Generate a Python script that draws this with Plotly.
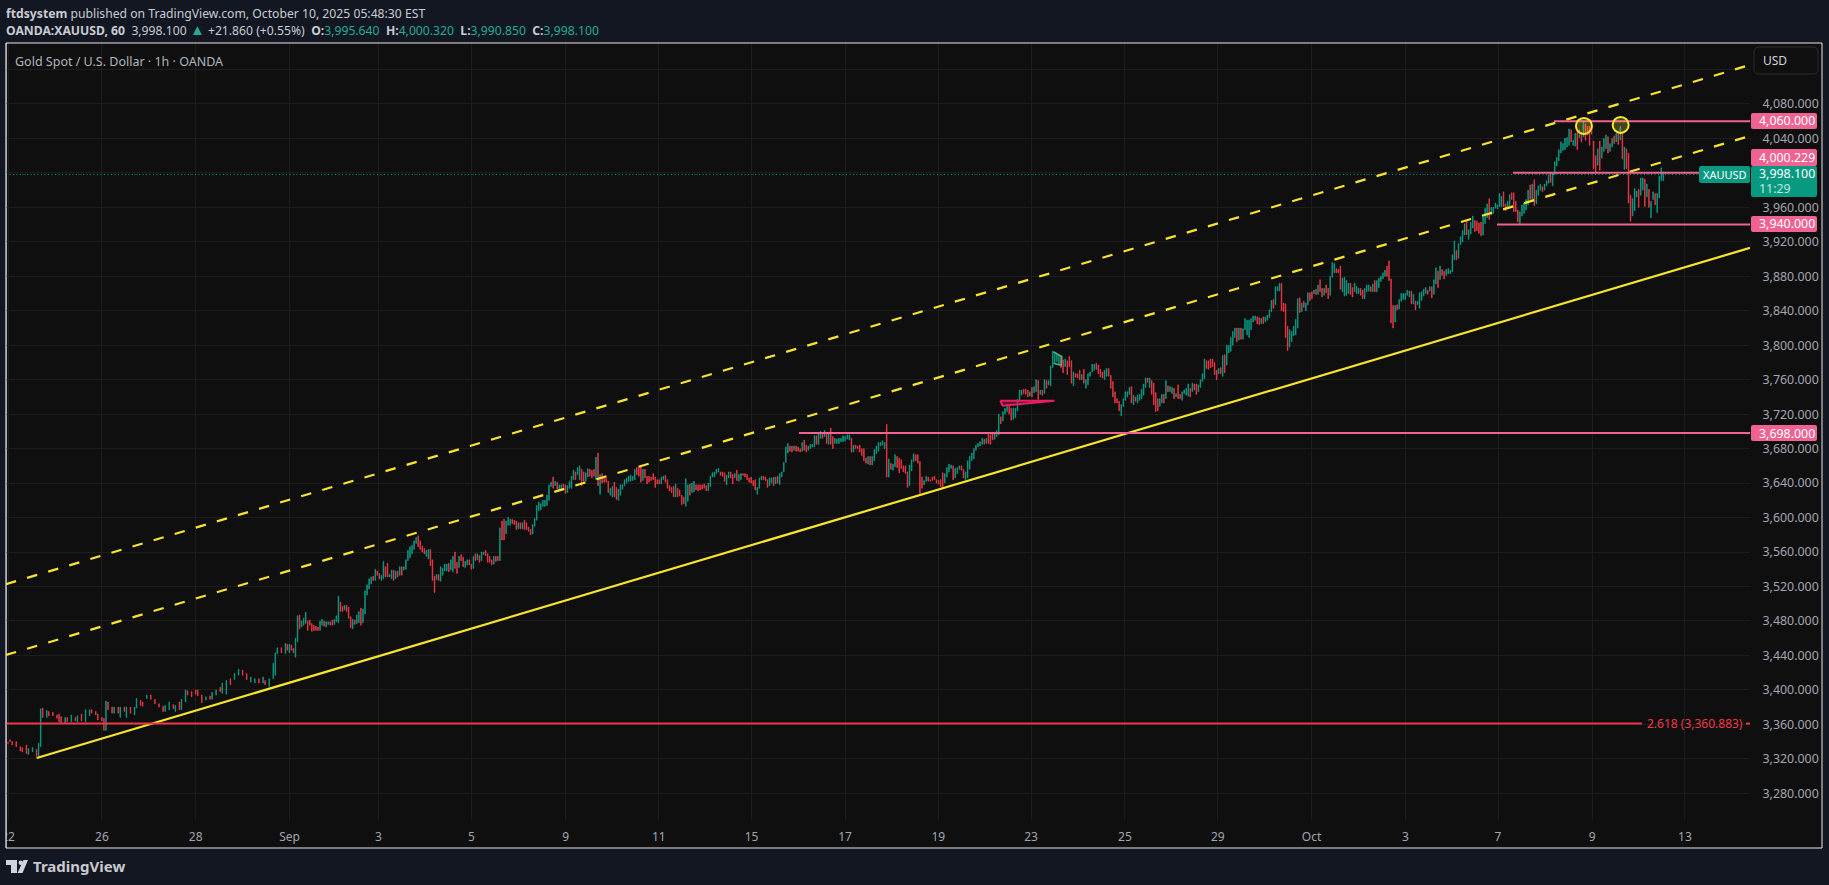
import numpy as np
import plotly.graph_objects as go

# ---- price data (segment by segment, open / close of each bar) ----
seg_a_bar = [1,2,3,5,7,8,10,11,13,15,16,17,18,20,21,23,25,26,27,29,30,32,34,35,37,39,41,42,44,45,47,48,49,50,52,53,55,56,58,59,61,63,64,66,67,69,71,73,75,77,78,80,82,83,85,86,88,89,91,93,94,96,98,100,101,103,105,106,108,110,112,114,116,118,120,122,124,126,127,129,131,132,133,135,137]
seg_a_open = [3339,3342,3340,3340,3334,3333,3336,3325,3328,3331,3323,3334,3379,3368,3375,3374,3371,3372,3369,3361,3368,3363,3368,3363,3372,3363,3370,3377,3375,3372,3368,3367,3353,3386,3380,3373,3380,3368,3380,3368,3380,3371,3379,3388,3386,3390,3394,3389,3384,3381,3375,3377,3383,3375,3386,3377,3386,3399,3398,3400,3400,3394,3388,3393,3389,3394,3403,3396,3395,3413,3412,3417,3423,3419,3409,3408,3413,3408,3411,3404,3413,3417,3442,3449,3442]
seg_a_close = [3338,3340,3336,3334,3329,3328,3326,3332,3333,3323,3338,3378,3368,3376,3370,3370,3367,3363,3361,3368,3363,3371,3364,3370,3364,3377,3377,3373,3371,3365,3364,3353,3387,3377,3373,3380,3373,3380,3375,3380,3373,3380,3390,3382,3381,3394,3389,3384,3380,3375,3382,3386,3378,3382,3377,3389,3400,3394,3392,3395,3393,3385,3392,3389,3397,3400,3398,3408,3411,3406,3419,3424,3417,3412,3415,3413,3408,3415,3406,3413,3431,3443,3449,3443,3454]

seg_b_open = [3453,3443,3452,3448,3438,3456,3487,3473,3475,3477,3480,3481,3477,3475,3474,3473,3469,3475,3480,3473,3476,3479,3481,3476,3479,3478,3502,3497,3493,3498,3496,3485,3471,3481,3477,3478,3495,3478,3488,3510,3517,3523,3532,3527,3538,3535,3527,3529,3543,3547,3531,3529,3539,3529,3538,3533,3543,3539,3540,3550,3553,3558,3563,3570,3579,3573,3567,3564,3555,3552,3563,3551,3532,3528,3534,3526,3533,3538,3538,3547,3539,3537,3560,3548,3542,3557,3554,3542,3545,3551,3546,3541,3558,3551,3556,3550,3557,3562,3558,3555,3551,3546,3555,3555,3550,3596,3598,3581,3591,3591,3598,3597,3596,3587,3594,3587,3597,3594,3589,3586,3581,3590,3597,3608,3609,3613,3613,3614,3620,3636,3647,3637,3641,3632,3633,3639,3638]
seg_b_close = [3446,3453,3446,3443,3460,3486,3471,3480,3483,3490,3469,3475,3468,3469,3469,3469,3480,3482,3474,3479,3479,3475,3475,3482,3486,3509,3491,3491,3498,3491,3483,3472,3482,3476,3487,3491,3475,3494,3515,3522,3529,3531,3527,3540,3533,3529,3533,3549,3531,3531,3534,3539,3527,3538,3531,3543,3533,3543,3551,3562,3566,3568,3573,3577,3566,3563,3560,3558,3562,3563,3544,3527,3513,3534,3527,3543,3541,3546,3546,3537,3551,3555,3541,3535,3555,3550,3543,3549,3551,3545,3540,3555,3550,3558,3548,3560,3560,3556,3548,3548,3545,3555,3549,3550,3588,3574,3574,3596,3600,3598,3593,3592,3586,3594,3587,3594,3586,3586,3584,3580,3592,3599,3614,3618,3616,3620,3620,3626,3638,3641,3634,3642,3633,3638,3638,3635,3628]

seg_c_open = [3629,3634,3634,3644,3653,3650,3644,3656,3653,3642,3647,3656,3655,3656,3644,3675,3627,3651,3647,3646,3642,3626,3624,3641,3635,3620,3626,3633,3637,3640,3642,3642,3643,3644,3658,3658,3659,3643,3656,3648,3648,3647,3651,3647,3644,3644,3639,3644,3649,3644,3637,3635,3636,3624,3634,3632,3626,3624,3613,3619,3639,3629,3630,3638,3638,3638,3638,3639,3637,3631,3636,3647,3647,3651,3653,3653,3653,3652,3638,3646,3653,3650,3646,3655,3642,3644,3651,3651,3650,3646,3647,3643,3644,3627,3634,3644,3648,3647,3644,3637,3640,3647,3639,3648,3638,3647,3653,3664,3675,3683,3683,3678,3683,3682,3680,3677,3690,3684,3678,3680,3682,3682,3695,3685,3692,3698,3694,3699,3685,3704,3694,3686,3686,3686,3688,3688,3689]
seg_c_close = [3637,3642,3648,3655,3644,3658,3660,3637,3642,3652,3657,3648,3646,3648,3670,3637,3650,3640,3641,3641,3629,3634,3636,3624,3621,3633,3638,3638,3644,3646,3648,3649,3648,3656,3650,3648,3641,3656,3646,3639,3641,3643,3644,3635,3639,3639,3647,3648,3641,3634,3631,3629,3624,3639,3624,3625,3615,3616,3645,3638,3626,3640,3642,3632,3631,3632,3633,3634,3631,3640,3648,3652,3653,3656,3657,3649,3648,3642,3649,3653,3646,3639,3651,3643,3650,3651,3649,3647,3644,3641,3640,3637,3632,3635,3646,3648,3644,3643,3635,3646,3646,3637,3647,3640,3651,3653,3664,3682,3686,3677,3676,3683,3677,3677,3676,3687,3678,3676,3683,3685,3685,3695,3685,3698,3700,3692,3701,3686,3699,3685,3680,3692,3691,3692,3692,3695,3694]

seg_d_open = [3691,3690,3692,3676,3684,3683,3684,3680,3680,3669,3662,3671,3661,3666,3674,3677,3683,3684,3680,3708,3647,3663,3655,3659,3671,3669,3667,3660,3660,3653,3637,3654,3665,3673,3673,3665,3647,3638,3642,3647,3644,3647,3648,3644,3643,3644,3652,3640,3647,3653,3657,3660,3646,3651,3656,3660,3656,3644,3646,3656,3666,3668,3678,3682,3683,3685,3691,3686,3698,3696,3698,3691,3694,3696,3717,3712,3720,3723,3729,3727,3714,3716,3724,3736,3742,3749,3749,3748,3741,3751,3745,3746,3759,3743,3748,3744,3759,3754,3753,3774,3780,3781,3777,3788,3783,3775,3782,3787,3782,3753,3767,3767,3771,3760,3772,3750,3754,3764,3769,3771,3779,3777,3772,3769,3760,3764,3773,3765,3758,3746,3738,3735,3718,3729,3736]
seg_d_close = [3696,3696,3676,3684,3680,3680,3676,3672,3666,3663,3671,3661,3671,3679,3683,3687,3687,3689,3687,3647,3668,3656,3662,3673,3658,3652,3657,3653,3651,3635,3661,3667,3674,3666,3663,3628,3634,3643,3648,3642,3642,3643,3644,3640,3639,3636,3634,3651,3658,3662,3661,3644,3657,3658,3660,3655,3646,3653,3666,3671,3675,3680,3684,3686,3688,3692,3685,3692,3686,3685,3690,3699,3701,3720,3709,3723,3727,3731,3720,3713,3727,3727,3737,3748,3748,3744,3743,3740,3746,3740,3752,3760,3737,3748,3742,3760,3750,3759,3776,3793,3791,3789,3789,3774,3768,3784,3766,3775,3756,3769,3763,3762,3760,3766,3756,3760,3767,3769,3778,3778,3772,3767,3763,3762,3771,3773,3764,3750,3740,3733,3733,3724,3731,3738,3746]

seg_e_open = [3740,3743,3752,3731,3740,3733,3736,3738,3742,3751,3762,3751,3759,3756,3745,3738,3729,3733,3743,3738,3753,3746,3744,3750,3740,3754,3743,3736,3744,3742,3741,3750,3746,3755,3755,3746,3751,3758,3761,3782,3782,3784,3784,3780,3771,3767,3774,3764,3789,3777,3791,3793,3800,3809,3820,3806,3820,3807,3818,3812,3809,3818,3827,3829,3833,3832,3825,3833,3827,3829,3832,3839,3853,3847,3863,3863,3872,3849,3848,3822,3798,3804,3811,3812,3820,3855,3839,3851,3840,3847,3861,3862,3860,3865,3859,3876,3866,3858,3870,3866,3858,3879,3884,3889,3888,3892,3862,3857,3858,3860,3872,3867,3862,3860,3860,3866,3864,3854,3862,3863,3868,3862,3875,3862,3867,3874,3877,3880,3892,3898,3877,3846,3827,3847,3842,3851,3853,3853]
seg_e_close = [3746,3751,3733,3742,3735,3742,3743,3749,3755,3762,3757,3762,3743,3731,3723,3724,3738,3743,3733,3759,3746,3752,3751,3738,3744,3738,3738,3746,3748,3750,3755,3740,3756,3748,3743,3754,3760,3767,3784,3773,3772,3774,3775,3766,3760,3773,3767,3788,3768,3800,3800,3809,3816,3820,3804,3820,3807,3819,3831,3829,3829,3831,3834,3834,3825,3824,3831,3825,3833,3835,3841,3852,3843,3868,3868,3872,3840,3839,3809,3794,3818,3816,3822,3830,3854,3838,3849,3844,3849,3861,3852,3854,3864,3859,3870,3862,3856,3866,3861,3854,3880,3896,3895,3884,3884,3865,3878,3879,3875,3872,3859,3856,3872,3868,3866,3858,3854,3866,3870,3870,3862,3871,3862,3875,3878,3880,3884,3887,3880,3875,3826,3820,3846,3841,3853,3860,3860,3860]

seg_f_open = [3858,3856,3863,3848,3851,3847,3843,3852,3857,3860,3864,3863,3868,3859,3871,3886,3876,3888,3886,3881,3883,3883,3885,3899,3910,3901,3917,3920,3928,3945,3923,3929,3936,3945,3944,3942,3943,3928,3941,3948,3970,3951,3953,3959,3958,3961,3961,3978,3964,3959,3962,3977,3977,3967,3957,3941,3950,3953,3957,3963,3986,3969,3992,3964,3974,3980,3984,3980,3985,3988,4000,3985,3998,4008,4014,4023,4026,4027,4030,4032,4050,4032,4031,4050,4041,4047,4042,4057,4054,4054,4056,4037,4020,4009,4037,4017,4025,4028,4042,4025,4030,4043,4036,4046,4038,4047,4004,4028,4023,3974,3950,3956,3972,3981,3974,3980,3993,3972,3981,3948,3969,3976,3954,3971,3991,3991]
seg_f_close = [3864,3863,3848,3859,3841,3851,3861,3862,3865,3867,3859,3868,3855,3876,3890,3867,3892,3881,3877,3888,3889,3887,3905,3921,3899,3918,3926,3933,3941,3928,3934,3943,3950,3932,3933,3930,3927,3949,3959,3964,3946,3960,3960,3965,3963,3976,3973,3961,3956,3967,3975,3969,3955,3955,3943,3955,3963,3965,3969,3980,3969,3987,3962,3980,3985,3987,3978,3987,3991,3998,3989,4000,4013,4018,4027,4036,4034,4040,4041,4051,4036,4038,4046,4027,4050,4036,4059,4038,4044,4032,4045,4005,4000,4028,4003,4030,4040,4044,4023,4034,4040,4034,4046,4033,4054,4016,4030,4005,3965,3944,3970,3982,3979,3960,3994,3994,3961,3987,3960,3967,3978,3963,3976,3996,4006,4001]

# bar-number span of each of the evenly spaced segments
seg_span = {"b": (137.9, 274.2), "c": (275.2, 411.3), "d": (412.4, 548.7), "e": (549.7, 685.9), "f": (686.9, 812.4)}

y_ticks = [3280, 3320, 3360, 3400, 3440, 3480, 3520, 3560, 3600, 3640, 3680, 3720, 3760, 3800, 3840, 3880, 3920, 3960, 4000, 4040, 4080, 4120]
y_hidden = {4000, 4120}
x_tick_bars = [1, 47, 93, 139, 182.6, 228.2, 274.3, 320, 365.5, 411.3, 457, 502.5, 548.5, 594, 640, 686, 731.4, 777.5, 823]
x_tick_text = ["22", "26", "28", "Sep", "3", "5", "9", "11", "15", "17", "19", "23", "25", "29", "Oct", "3", "7", "9", "13"]

resistance_levels = [4060.0, 4000.229, 3940.0, 3698.0]
last_price = 3998.1
fib_level = 3360.883

# ---- frame geometry (pixels of the 1829x885 page) ----
W, H = 1829, 885
L, R, T, B = 6, 1750, 44, 820
BG, PAGE = "#0f0f0f", "#131722"
UP, DOWN = "#089981", "#f23645"
CANDLE_UP, CANDLE_DOWN = "#0aa88e", "#ff3b4c"
PINK, YEL = "#f06292", "#f9e52e"
FONT = "Noto Sans"
PX_PER_BAR = 2.04
X_MAX = (R - L) / PX_PER_BAR
PRICE_TOP, PRICE_BOT = 4149.6, 3249.0

def px(p):
    return (p - L) / (R - L)

def py(p):
    return (B - p) / (B - T)

def bar_of(p):
    return (p - L) / PX_PER_BAR

def rrect(x0, y0, x1, y1, r=2):
    a, b, c, d = px(x0), px(x1), py(y0), py(y1)
    rx, ry = r / (R - L), r / (B - T)
    return (f"M {a+rx} {c} L {b-rx} {c} Q {b} {c} {b} {c-ry} L {b} {d+ry} Q {b} {d} {b-rx} {d} "
            f"L {a+rx} {d} Q {a} {d} {a} {d+ry} L {a} {c-ry} Q {a} {c} {a+rx} {c} Z")

bars = list(seg_a_bar)
opens = list(seg_a_open)
closes = list(seg_a_close)
for key, o, c in [("b", seg_b_open, seg_b_close), ("c", seg_c_open, seg_c_close), ("d", seg_d_open, seg_d_close),
                  ("e", seg_e_open, seg_e_close), ("f", seg_f_open, seg_f_close)]:
    n = min(len(o), len(c))
    bars += list(np.linspace(seg_span[key][0], seg_span[key][1], n))
    opens += list(o[:n])
    closes += list(c[:n])
n = min(len(bars), len(opens), len(closes))
bars, opens, closes = bars[:n], opens[:n], closes[:n]
highs = [max(a, b) for a, b in zip(opens, closes)]
lows = [min(a, b) for a, b in zip(opens, closes)]

fig = go.Figure()

def line(xs, ys, color, width=2, dash="solid", fill=None, fillcolor=None):
    fig.add_trace(go.Scatter(x=xs, y=ys, mode="lines", line=dict(color=color, width=width, dash=dash),
                             fill=fill, fillcolor=fillcolor, hoverinfo="skip", showlegend=False))

line([0, bar_of(1699)], [last_price, last_price], CANDLE_UP, 1, "1px,2.5px")

fig.add_trace(go.Candlestick(x=bars, open=opens, high=highs, low=lows, close=closes,
                             increasing=dict(line=dict(color=CANDLE_UP, width=0.6), fillcolor=CANDLE_UP),
                             decreasing=dict(line=dict(color=CANDLE_DOWN, width=0.6), fillcolor=CANDLE_DOWN),
                             hoverinfo="skip", showlegend=False))

DASH = "10.5px,11.5px"
line([0, X_MAX], [3522.7, 4125.3], YEL, 2.2, DASH)
line([0, X_MAX], [3440.5, 4042.9], YEL, 2.2, DASH)
line([bar_of(36.7), X_MAX], [3321, 3913], YEL, 2.2)
line([bar_of(1554), X_MAX], [resistance_levels[0]] * 2, PINK)
line([bar_of(1513), bar_of(1699)], [resistance_levels[1]] * 2, PINK)
line([bar_of(1497), X_MAX], [resistance_levels[2]] * 2, PINK)
line([bar_of(799), X_MAX], [resistance_levels[3]] * 2, PINK)
line([0, bar_of(1642)], [fib_level] * 2, DOWN)
line([bar_of(1746), X_MAX], [fib_level] * 2, DOWN)
line([487.4, 513.9, 488.6, 487.4], [3735.6, 3735.6, 3729.8, 3735.6], "#e91e63", 2, "solid", "toself", "rgba(233,30,99,0.35)")
line([513.4, 517.6, 517.2, 513.4], [3792.5, 3786.7, 3776.7, 3779.1], "#4caf7a", 1.6)

shapes = []
# outer frame & panel
shapes.append(dict(type="rect", xref="paper", yref="paper", x0=px(6), x1=px(1822), y0=py(848), y1=py(43),
                   fillcolor=BG, line=dict(color="#e8e8e8", width=1), layer="below"))
# cover strip that clips the leftmost date label at the frame
shapes.append(dict(type="rect", xref="paper", yref="paper", x0=px(0), x1=px(5.6), y0=py(849), y1=py(42),
                   fillcolor=PAGE, line=dict(width=0), layer="above"))
shapes.append(dict(type="line", xref="paper", yref="paper", x0=px(6), x1=px(6), y0=py(848), y1=py(43),
                   line=dict(color="#e8e8e8", width=1), layer="above"))
# marked tops
for cx, cy in [(773.5, 4054.5), (791.5, 4055.7)]:
    shapes.append(dict(type="circle", xref="x", yref="y", x0=cx - 3.92, x1=cx + 3.92, y0=cy - 9.28, y1=cy + 9.28,
                       fillcolor="rgba(247,227,46,0.25)", line=dict(color=YEL, width=2), layer="above"))
# USD button
shapes.append(dict(type="path", xref="paper", yref="paper", path=rrect(1754, 47, 1818, 74, 5),
                   fillcolor=BG, line=dict(color="#2e2e2e", width=1), layer="above"))
# price tags
for y0, y1, col in [(113, 129, PINK), (149, 166, PINK), (216, 232, PINK), (425, 441, PINK), (166, 197, UP)]:
    shapes.append(dict(type="path", xref="paper", yref="paper", path=rrect(1751, y0, 1817, y1, 2),
                       fillcolor=col, line=dict(width=0), layer="above"))
shapes.append(dict(type="path", xref="paper", yref="paper", path=rrect(1699, 166, 1750, 183, 2),
                   fillcolor=UP, line=dict(width=0), layer="above"))
# TradingView logo
logo = "#d1d4dc"
shapes.append(dict(type="path", xref="paper", yref="paper", fillcolor=logo, line=dict(width=0), layer="above",
                   path=f"M {px(6)} {py(860)} L {px(17)} {py(860)} L {px(17)} {py(873)} L {px(11)} {py(873)} L {px(11)} {py(865)} L {px(6)} {py(865)} Z"))
shapes.append(dict(type="circle", xref="paper", yref="paper", fillcolor=logo, line=dict(width=0), layer="above",
                   x0=px(18.5), x1=px(23), y0=py(865), y1=py(860.5)))
shapes.append(dict(type="path", xref="paper", yref="paper", fillcolor=logo, line=dict(width=0), layer="above",
                   path=f"M {px(23.5)} {py(860)} L {px(28)} {py(860)} L {px(22.5)} {py(873)} L {px(17.5)} {py(873)} Z"))

ann = []

def text(xp, yp, s, color="#d1d4dc", size=12, anchor="left", fam=FONT):
    ann.append(dict(x=px(xp), y=py(yp), xref="paper", yref="paper", text=s, showarrow=False, xanchor=anchor,
                    yanchor="middle", align="left", font=dict(color=color, size=size, family=fam), borderpad=0,
                    borderwidth=0))

G = "#22ab94"
text(6, 14, "<b>ftdsystem</b> published on TradingView.com, October 10, 2025 05:48:30 EST", "#c8cbd3", 12.2)
text(6, 29, f"<b>OANDA:XAUUSD, 60</b>  3,998.100 <span style='color:{G};font-size:15px'>▲</span> +21.860 (+0.55%)  <b>O:</b><span style='color:{G}'>3,995.640</span>  <b>H:</b><span style='color:{G}'>4,000.320</span>  <b>L:</b><span style='color:{G}'>3,990.850</span>  <b>C:</b><span style='color:{G}'>3,998.100</span>", "#c8cbd3", 12.2)
text(15, 61, "Gold Spot / U.S. Dollar · 1h · OANDA", "#b2b5be", 12.5)
text(1763, 60, "USD", "#d1d4dc", 12)
text(1759, 121, "4,060.000", "#ffffff", 12.4)
text(1759, 157.5, "4,000.229", "#ffffff", 12.4)
text(1759, 224, "3,940.000", "#ffffff", 12.4)
text(1759, 433, "3,698.000", "#ffffff", 12.4)
text(1759, 174, "3,998.100", "#ffffff", 12.4)
text(1759, 188, "11:29", "#bfe6dc", 12.4)
text(1703, 174.5, "XAUUSD", "#ffffff", 11)
text(1647, 723, "2.618 (3,360.883)", DOWN, 12)
text(33, 866, "<b>TradingView</b>", "#c8cad0", 15)

fig.update_layout(
    width=W, height=H, autosize=False,
    margin=dict(l=L, r=W - R, t=T, b=H - B, pad=0, autoexpand=False),
    paper_bgcolor=PAGE, plot_bgcolor="rgba(0,0,0,0)",
    boxgap=0.5, showlegend=False,
    shapes=shapes, annotations=ann,
    font=dict(family=FONT, color="#a3a6af", size=12),
    xaxis=dict(range=[0, X_MAX], rangeslider=dict(visible=False), tickmode="array", tickvals=x_tick_bars,
               ticktext=x_tick_text, showgrid=True, gridcolor="#1d1d1d", gridwidth=1, zeroline=False,
               showline=False, ticks="outside", ticklen=6, tickcolor="rgba(0,0,0,0)",
               tickfont=dict(family=FONT, size=12, color="#a3a6af")),
    yaxis=dict(range=[PRICE_BOT, PRICE_TOP], side="right", tickmode="array", tickvals=y_ticks,
               ticktext=["" if v in y_hidden else f"{v:,.3f}" for v in y_ticks], showgrid=True,
               gridcolor="#1d1d1d", gridwidth=1, zeroline=False, showline=False, ticks="outside", ticklen=9,
               tickcolor="rgba(0,0,0,0)", tickfont=dict(family=FONT, size=12.4, color="#a3a6af")),
)

fig.write_html("out.html", config=dict(displayModeBar=False),
               post_script="document.body.style.margin='0';document.body.style.background='#131722';document.body.style.overflow='hidden';")
